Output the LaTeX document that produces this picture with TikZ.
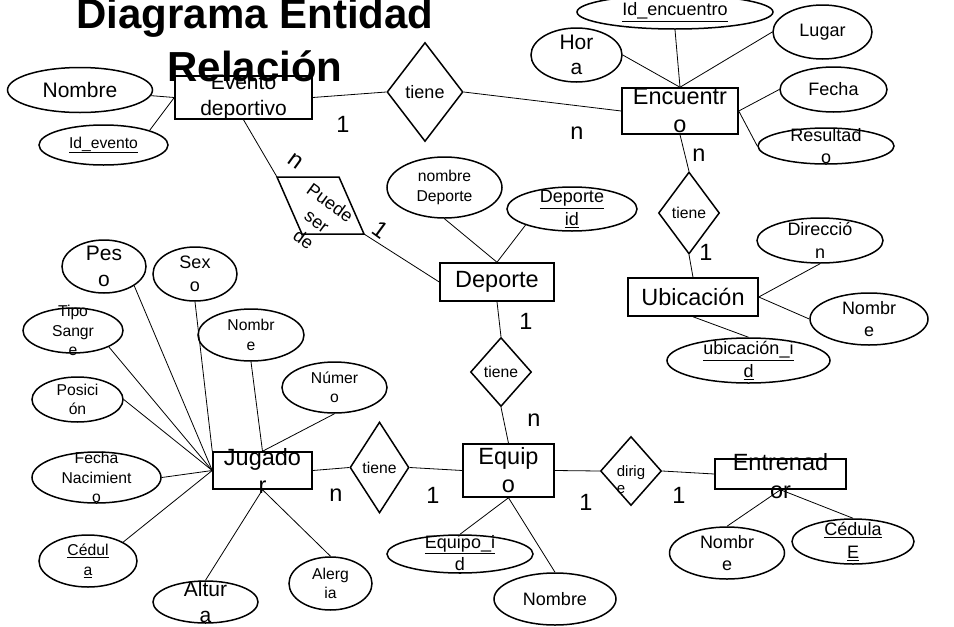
\documentclass[tikz,border=0pt]{standalone}
\usepackage{fontspec}
\setmainfont{Liberation Sans}
\usetikzlibrary{shapes.geometric}
\tikzset{
  ent/.style={draw, line width=1.5pt, inner sep=0pt},
  atr/.style={draw, ellipse, line width=1.5pt, inner sep=0pt},
  rel/.style={draw, diamond, line width=1.5pt, inner sep=0pt},
  sz/.style 2 args={minimum width=#1, minimum height=#2},
  fS/.style={font=\fontsize{15.7}{19.5}\selectfont, align=center},
  fM/.style={font=\fontsize{18}{22.5}\selectfont, align=center},
  fL/.style={font=\fontsize{21}{25.5}\selectfont, align=center},
  fXL/.style={font=\fontsize{23.5}{28}\selectfont, align=center},
  card/.style={font=\fontsize{23.5}{28}\selectfont, inner sep=0pt},
  con/.style={line width=0.8pt}
}
\begin{document}
\begin{tikzpicture}[x=1pt, y=-1pt]
        \useasboundingbox (0, 0) rectangle (954, 627);
        \node [ent, sz={137}{43}, label={[fL]center:Evento\\deportivo}] (EV) at (243.5, 97.5) {};
        \node [ent, sz={116}{46}, label={[fXL]center:Encuentr\\o}] (ENC) at (680, 111) {};
        \node [ent, sz={114}{38}, label={[fXL]center:Deporte}] (DEP) at (497, 282) {};
        \node [ent, sz={130}{38}, label={[fXL]center:Ubicación}] (UBI) at (693, 297) {};
        \node [ent, sz={91}{53}, label={[fXL]center:Equip\\o}] (EQ) at (508.5, 470.5) {};
        \node [ent, sz={131}{30}, label={[fXL, yshift=-2pt]center:Entrenad\\or}] (ENT) at (780.5, 474) {};
        \node [ent, sz={99}{37}, label={[fXL]center:Jugado\\r}] (JUG) at (262.5, 470.5) {};
        \node [rel, sz={76}{99}, label={[fM]center:tiene}] (TI1) at (425, 92) {};
        \node [rel, sz={61}{82}, label={[fS]center:tiene}] (TI2) at (689, 213) {};
        \node [rel, sz={61}{69}, label={[fS]center:tiene}] (TI3) at (501, 372) {};
        \node [rel, sz={59}{91}, label={[fS]center:tiene}] (TI4) at (379.5, 467.5) {};
        \node [rel, sz={61}{69}, label={[font=\fontsize{15}{17}\selectfont, align=left, yshift=-9pt]center:dirig\\e}] (DIRI) at (631, 471) {};
        \coordinate (PA) at (277, 177);
        \coordinate (PB) at (339, 177);
        \coordinate (PC) at (364, 234);
        \coordinate (PD) at (302, 234);
        \draw [line width=1.5pt] (PA) -- (PB) -- (PC) -- (PD) -- cycle;
        \node [fM, rotate=-36] (PSD) at (317, 221) {Puede\\ser\\de};
        \node [atr, sz={145}{45}, label={[fL]center:Nombre}] (NOMEV) at (80, 90) {};
        \node [atr, sz={129}{40}, label={[fS]center:\underline{Id\_evento}}] (IDEV) at (103.5, 145) {};
        \node [atr, sz={196}{34}, label={[fM]center:\underline{Id\_encuentro}}] (IDEN) at (675, 12) {};
        \node [atr, sz={91}{54}, label={[fL]center:Hor\\a}] (HORA) at (576.5, 55) {};
        \node [atr, sz={99}{54}, label={[fM]center:Lugar}] (LUG) at (822.5, 32) {};
        \node [atr, sz={107}{45}, label={[fM]center:Fecha}] (FEC) at (833.5, 89.5) {};
        \node [atr, sz={136}{36}, label={[fM]center:Resultad\\o}] (RES) at (826, 146) {};
        \node [atr, sz={115}{61}, label={[fS]center:nombre\\Deporte}] (NDEP) at (444.5, 187.5) {};
        \node [atr, sz={130}{44}, label={[fM]center:\underline{Deporte}\\\underline{id}}] (DEPID) at (572, 209) {};
        \node [atr, sz={126}{45}, label={[fM]center:Direcció\\n}] (DIR) at (820, 240.5) {};
        \node [atr, sz={118}{52}, label={[fM]center:Nombr\\e}] (NOMUB) at (869, 319) {};
        \node [atr, sz={163}{45}, label={[fM]center:\underline{ubicación\_i}\\\underline{d}}] (UBID) at (748.5, 360.5) {};
        \node [atr, sz={146}{38}, label={[fM]center:\underline{Equipo\_i}\\\underline{d}}] (EQID) at (460, 554) {};
        \node [atr, sz={122}{52}, label={[fM]center:Nombre}] (NOMEQ) at (555, 599) {};
        \node [atr, sz={115}{52}, label={[fM]center:Nombr\\e}] (NOMEN) at (727, 553) {};
        \node [atr, sz={122}{45}, label={[fM]center:\underline{Cédula}\\\underline{E}}] (CEDE) at (853, 541.5) {};
        \node [atr, sz={84}{53}, label={[fL]center:Pes\\o}] (PESO) at (104, 266.5) {};
        \node [atr, sz={84}{54}, label={[fM]center:Sex\\o}] (SEXO) at (195, 274) {};
        \node [atr, sz={100}{45}, label={[fS]center:Tipo\\Sangr\\e}] (TIPO) at (73, 330.5) {};
        \node [atr, sz={106}{52}, label={[fS]center:Nombr\\e}] (NOMJ) at (251, 335) {};
        \node [atr, sz={91}{45}, label={[fS]center:Posici\\ón}] (POS) at (77.5, 399.5) {};
        \node [atr, sz={105}{51}, label={[fS]center:Númer\\o}] (NUM) at (334.5, 387.5) {};
        \node [atr, sz={129}{51}, label={[fS]center:Fecha\\Nacimient\\o}] (FNAC) at (96.5, 477.5) {};
        \node [atr, sz={98}{52}, label={[fS]center:\underline{Cédul}\\\underline{a}}] (CED) at (88, 561) {};
        \node [atr, sz={105}{42}, label={[fL]center:Altur\\a}] (ALT) at (205.5, 602) {};
        \node [atr, sz={83}{53}, label={[fS]center:Alerg\\ia}] (ALE) at (330.5, 583.5) {};
        \node [card] (EV1) at (343, 124) {1};
        \node [card] (ENCN) at (577, 133) {n};
        \node [card] (TI2N) at (699, 155) {n};
        \node [card] (UBI1) at (706, 252) {1};
        \node [card, rotate=-36] (PSN) at (296, 161) {n};
        \node [card, rotate=-36] (PS1) at (381, 230) {1};
        \node [card] (DEP1) at (526, 321) {1};
        \node [card] (EQN) at (534, 420) {n};
        \node [card] (JUGN) at (336, 495) {n};
        \node [card] (EQ1) at (433, 495) {1};
        \node [card] (DIRI1) at (586, 502) {1};
        \node [card] (ENT1) at (679, 495) {1};
        \draw [con] (NOMEV) -- (EV.west);
        \draw [con] (IDEV.north east) -- (EV.west);
        \draw [con] (EV.east) -- (TI1.west);
        \draw [con] (TI1.east) -- (ENC.west);
        \draw [con] (HORA.east) -- (ENC.north);
        \draw [con] (IDEN.south) -- (ENC.north);
        \draw [con] (LUG.west) -- (ENC.north);
        \draw [con] (FEC.west) -- (ENC.east);
        \draw [con] (RES.west) -- (ENC.east);
        \draw [con] (ENC.south) -- (TI2.north);
        \draw [con] (TI2.south) -- (UBI.north);
        \draw [con] (UBI.east) -- (DIR.south);
        \draw [con] (UBI.east) -- (NOMUB.west);
        \draw [con] (UBI.south) -- (UBID.north);
        \draw [con] (EV.south) -- (PA);
        \draw [con] (PC) -- (DEP.west);
        \draw [con] (NDEP.south) -- (DEP.north);
        \draw [con] (DEPID.south west) -- (DEP.north);
        \draw [con] (DEP.south) -- (TI3.north);
        \draw [con] (TI3.south) -- (EQ.north);
        \draw [con] (JUG.east) -- (TI4.west);
        \draw [con] (TI4.east) -- (EQ.west);
        \draw [con] (EQ.east) -- (DIRI.west);
        \draw [con] (DIRI.east) -- (ENT.west);
        \draw [con] (EQ.south) -- (EQID.north);
        \draw [con] (EQ.south) -- (NOMEQ.north);
        \draw [con] (ENT.south) -- (NOMEN.north);
        \draw [con] (ENT.south) -- (CEDE.north);
        \draw [con] (PESO.south east) -- (JUG.west);
        \draw [con] (SEXO.south) -- (JUG.north west);
        \draw [con] (TIPO.south east) -- (JUG.west);
        \draw [con] (POS.east) -- (JUG.west);
        \draw [con] (FNAC.east) -- (JUG.west);
        \draw [con] (CED.north east) -- (JUG.west);
        \draw [con] (NOMJ.south) -- (JUG.north);
        \draw [con] (NUM.south) -- (JUG.north);
        \draw [con] (ALT.north) -- (JUG.south);
        \draw [con] (ALE.north) -- (JUG.south);
        \node [anchor=base, font=\fontsize{42}{50}\selectfont\bfseries] (TIT1) at (255, 28) {Diagrama Entidad};
        \node [anchor=base, font=\fontsize{42}{50}\selectfont\bfseries] (TIT2) at (255, 81) {Relación};
\end{tikzpicture}
\end{document}
